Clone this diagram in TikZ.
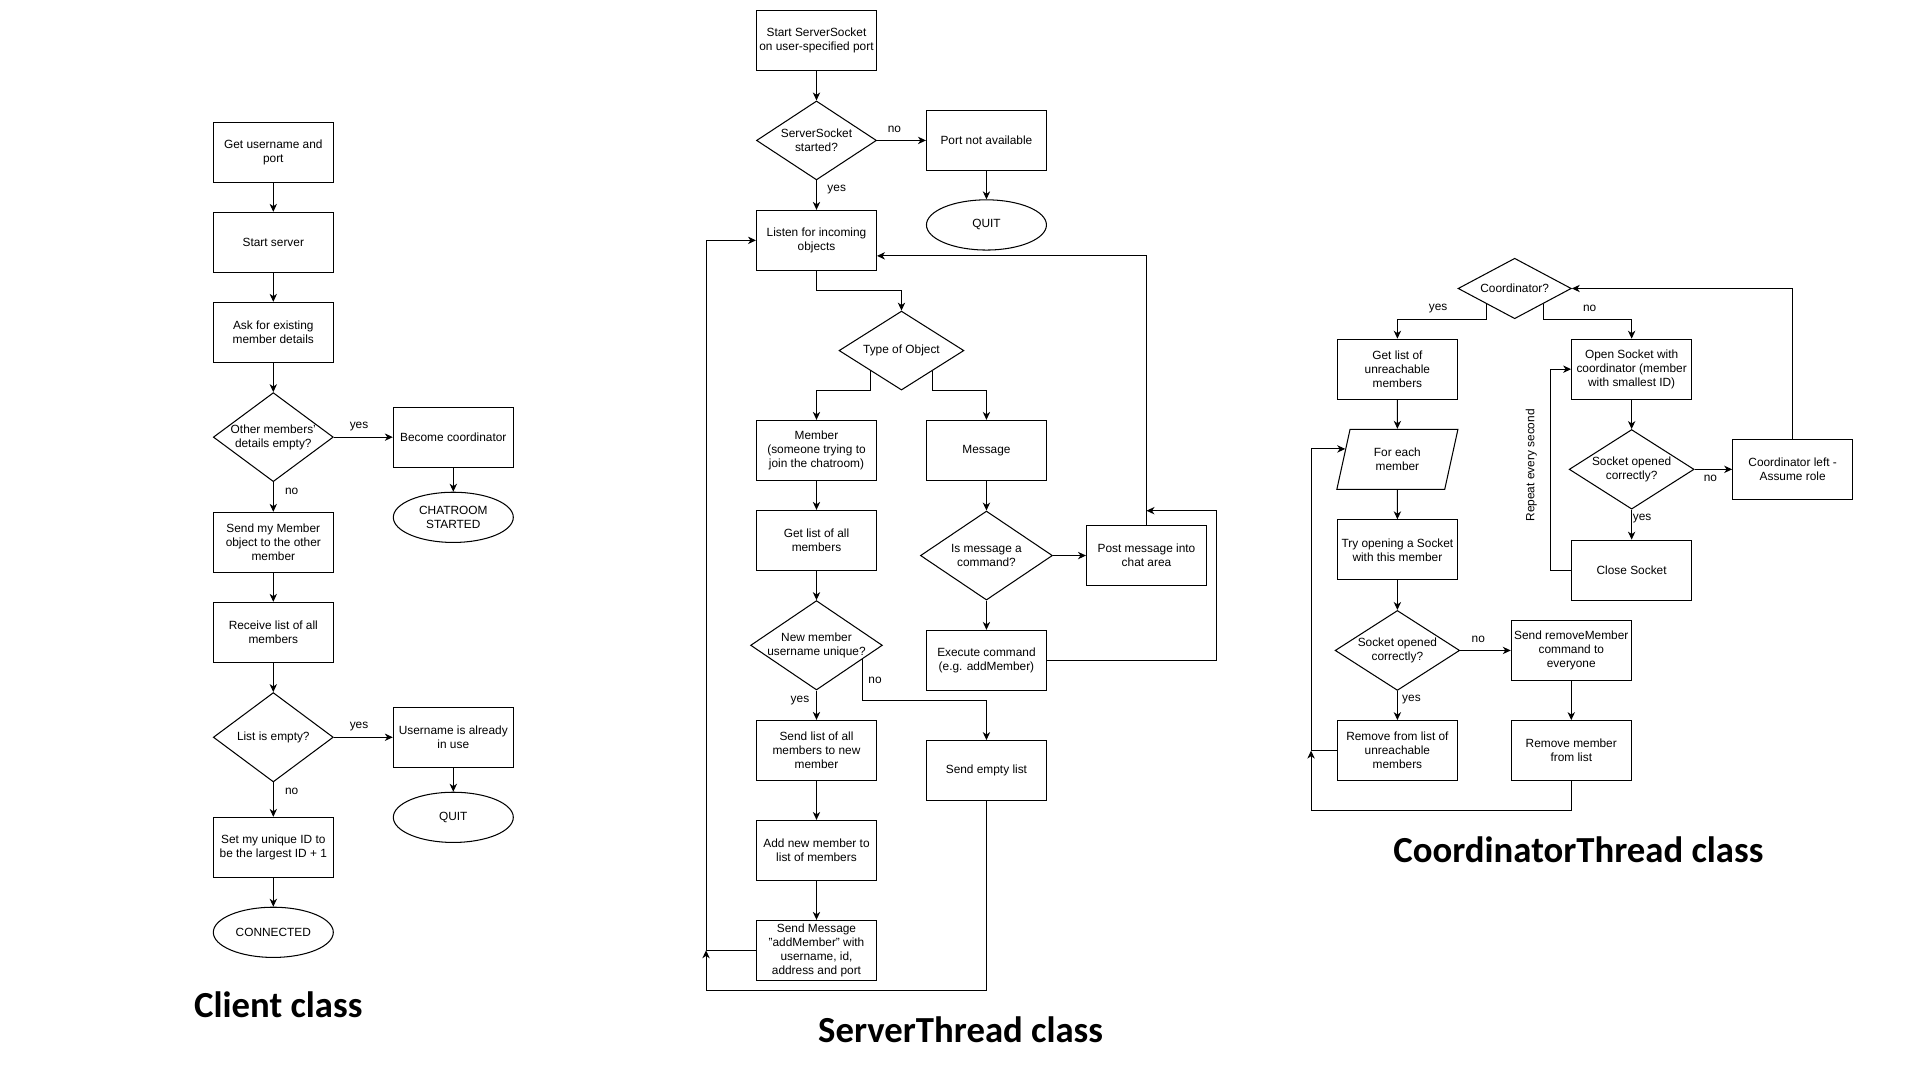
\documentclass[tikz,border=0pt]{standalone}
\usepackage{fontspec}
\setmainfont{Liberation Sans}
\newfontfamily\titlefont{Carlito}
\usetikzlibrary{shapes.geometric,arrows.meta,calc}
\tikzset{
  every node/.style={font=\fontsize{9.7}{11.5}\selectfont, inner sep=0pt},
  txt/.style={align=center},
  box/.style={draw, rectangle, minimum width=98pt, minimum height=49pt, align=center, line width=0.85pt},
  dia/.style={draw, diamond, line width=0.85pt},
  ell/.style={draw, ellipse, minimum width=98pt, minimum height=41pt, align=center, line width=0.85pt},
  para/.style={draw, trapezium, trapezium left angle=74, trapezium right angle=106, trapezium stretches=true, minimum width=99pt, minimum height=49pt, align=center, line width=0.85pt},
  arr/.style={-{Stealth[length=6.5pt,width=6pt,inset=2pt]}, line width=0.8pt},
  ttl/.style={font=\titlefont\bfseries\fontsize{30}{36}\selectfont, anchor=base},
}
\begin{document}
\begin{tikzpicture}[x=1pt,y=-1pt]
\fill[white] (0,0) rectangle (1568,882);
\useasboundingbox (0,0) rectangle (1568,882);

% ---------------- Client class ----------------
\node[box] (b1) at (223.2,124.4) {Get username and\\port};
\node[box] (b2) at (223.2,197.9) {Start server};
\node[box] (b3) at (223.2,271.4) {Ask for existing\\member details};
\node[dia, minimum width=98pt, minimum height=72.7pt] (d1) at (223.2,357) {};
\node[txt] (d1t) at (d1) {Other members'\\details empty?};
\node[box] (b4) at (370.2,357) {Become coordinator};
\node[ell] (e1) at (370.2,422.5) {CHATROOM\\STARTED};
\node[box] (b5) at (223.2,442.9) {Send my Member\\object to the other\\member};
\node[box] (b6) at (223.2,516.4) {Receive list of all\\members};
\node[dia, minimum width=98pt, minimum height=73pt] (d2) at (223.2,602.1) {};
\node[txt] (d2t) at (d2) {List is empty?};
\node[box] (b7) at (370.2,602.1) {Username is already\\in use};
\node[ell] (e2) at (370.2,667.5) {QUIT};
\node[box] (b8) at (223.2,692) {Set my unique ID to\\be the largest ID + 1};
\node[ell] (e3) at (223.2,761.4) {CONNECTED};

\node (ly1) at (293.2,348.4) {yes};
\node (ln1) at (238.2,401.5) {no};
\node (ly2) at (293.2,593.5) {yes};
\node (ln2) at (238.2,646.5) {no};

\draw[arr] (b1.south) -- (b2.north);
\draw[arr] (b2.south) -- (b3.north);
\draw[arr] (b3.south) -- (d1.north);
\draw[arr] (d1.east) -- (b4.west);
\draw[arr] (b4.south) -- (e1.north);
\draw[arr] (d1.south) -- (b5.north);
\draw[arr] (b5.south) -- (b6.north);
\draw[arr] (b6.south) -- (d2.north);
\draw[arr] (d2.east) -- (b7.west);
\draw[arr] (b7.south) -- (e2.north);
\draw[arr] (d2.south) -- (b8.north);
\draw[arr] (b8.south) -- (e3.north);

\node[ttl] (tc) at (227.3,831) {Client class};

% ---------------- ServerThread class ----------------
\node[box] (s1) at (666.8,33) {Start ServerSocket\\on user-specified port};
\node[dia, minimum width=98pt, minimum height=64.5pt] (sd1) at (666.8,114.7) {};
\node[txt] (sd1t) at (sd1) {ServerSocket\\started?};
\node[box] (s2) at (805.6,114.7) {Port not available};
\node[ell] (sq) at (805.6,183.7) {QUIT};
\node[box] (s3) at (666.8,196.3) {Listen for incoming\\objects};
\node[dia, minimum width=102pt, minimum height=64.5pt] (sd2) at (736.2,286.3) {};
\node[txt] (sd2t) at (sd2) {Type of Object};
\node[box] (s4) at (666.8,367.8) {Member\\(someone trying to\\join the chatroom)};
\node[box] (s5) at (805.6,367.8) {Message};
\node[box] (s6) at (666.8,441.3) {Get list of all\\members};
\node[dia, minimum width=107.8pt, minimum height=72.7pt] (sd3) at (805.6,453.7) {};
\node[txt] (sd3t) at (sd3) {Is message a\\command?};
\node[box] (s7) at (936.3,453.7) {Post message into\\chat area};
\node[box] (s8) at (805.6,539.3) {Execute command\\(e.g. addMember)};
\node[dia, minimum width=107.6pt, minimum height=73pt] (sd4) at (666.8,527) {};
\node[txt] (sd4t) at (sd4) {New member\\username unique?};
\node[box] (s9) at (666.8,612.8) {Send list of all\\members to new\\member};
\node[box] (s10) at (805.6,629.3) {Send empty list};
\node[box] (s11) at (666.8,694.5) {Add new member to\\list of members};
\node[box] (s12) at (666.8,776.1) {Send Message\\"addMember" with\\username, id,\\address and port};

\node (sln1) at (730.4,106) {no};
\node (sly1) at (683.3,155) {yes};
\node (sln2) at (714.6,555.3) {no};
\node (sly2) at (653.3,572.5) {yes};

\draw[arr] (s1.south) -- (sd1.north);
\draw[arr] (sd1.east) -- (s2.west);
\draw[arr] (s2.south) -- (sq.north);
\draw[arr] (sd1.south) -- (s3.north);
\draw[arr] (s3.south) -- ++(0,16.4) -| (sd2.north);
\draw[arr] (sd2.south west) -- (sd2.south west |- sd2.south) -| (s4.north);
\draw[arr] (sd2.south east) -- (sd2.south east |- sd2.south) -| (s5.north);
\draw[arr] (s4.south) -- (s6.north);
\draw[arr] (s6.south) -- (sd4.north);
\draw[arr] (sd4.south) -- (s9.north);
\coordinate (sd4n) at ($(sd4.east)!0.305!(sd4.south)$);
\coordinate (y572) at (0,572);
\draw[arr] (sd4n) -- (sd4n |- y572) -| (s10.north);
\draw[arr] (s9.south) -- (s11.north);
\draw[arr] (s11.south) -- (s12.north);
\draw[arr] (s5.south) -- (sd3.north);
\draw[arr] (sd3.east) -- (s7.west);
\draw[arr] (sd3.south) -- (s8.north);
\coordinate (s3r) at ($(s3.north east)!0.754!(s3.south east)$);
\draw[arr] (s7.north) |- (s3r);
\coordinate (s7m) at ($(s7.north)+(0,-11.7)$);
\coordinate (s8x) at (993.6,0);
\draw[arr] (s8.east) -- (s8.east -| s8x) |- (s7m);
\coordinate (slx) at (576.6,808.8);
\draw[arr] (s12.west) -- (s12.west -| slx) |- (s3.west);
\draw[arr] (s10.south) |- (slx) -- (s12.west -| slx);

\node[ttl] (ts) at (784.5,851.5) {ServerThread class};

% ---------------- CoordinatorThread class ----------------
\node[dia, minimum width=92.5pt, minimum height=49.4pt] (cd1) at (1237,235.6) {};
\node[txt] (cd1t) at (cd1) {Coordinator?};
\node[box] (c1) at (1141.2,301.5) {Get list of\\unreachable\\members};
\node[para] (c2) at (1141.2,375.1) {For each\\member};
\node[box] (c3) at (1141.2,449) {Try opening a Socket\\with this member};
\node[dia, minimum width=101.7pt, minimum height=65.3pt] (cd2) at (1141.2,531.2) {};
\node[txt] (cd2t) at (cd2) {Socket opened\\correctly?};
\node[box] (c5) at (1283.2,531.2) {Send removeMember\\command to\\everyone};
\node[box] (c6) at (1141.2,613) {Remove from list of\\unreachable\\members};
\node[box] (c7) at (1283.2,613) {Remove member\\from list};
\node[box] (c4) at (1332.5,301.5) {Open Socket with\\coordinator (member\\with smallest ID)};
\node[dia, minimum width=102pt, minimum height=65pt] (cd3) at (1332.5,383.3) {};
\node[txt] (cd3t) at (cd3) {Socket opened\\correctly?};
\node[box] (c8) at (1464,383.3) {Coordinator left -\\Assume role};
\node[box] (c9) at (1332.5,465.6) {Close Socket};
\node[rotate=90] (rep) at (1250.5,380) {Repeat every second};

\node (cly1) at (1174.4,251.9) {yes};
\node (cln1) at (1298.2,251.9) {no};
\node (cln2) at (1207.3,522.3) {no};
\node (cly2) at (1152.7,571.5) {yes};
\node (cln3) at (1396.8,390.9) {no};
\node (cly3) at (1341,423.7) {yes};

\draw[arr] (cd1.south west) -- (cd1.south west |- cd1.south) -| (c1.north);
\draw[arr] (cd1.south east) -- (cd1.south east |- cd1.south) -| (c4.north);
\draw[arr] (c1.south) -- (c2.north);
\draw[arr] (c2.south) -- (c3.north);
\draw[arr] (c3.south) -- (cd2.north);
\draw[arr] (cd2.east) -- (c5.west);
\draw[arr] (cd2.south) -- (c6.north);
\draw[arr] (c5.south) -- (c7.north);
\coordinate (clx) at (1070.7,662);
\coordinate (c2l) at ($(c2.top left corner)!0.33!(c2.bottom left corner)$);
\draw[arr] (c6.west) -- (c6.west -| clx) |- (c2l);
\draw[arr] (c7.south) |- (clx) -- (c6.west -| clx);
\draw[arr] (c4.south) -- (cd3.north);
\draw[arr] (cd3.east) -- (c8.west);
\draw[arr] (cd3.south) -- (c9.north);
\draw[arr] (c9.west) -- ++(-16.6,0) |- (c4.west);
\draw[arr] (c8.north) |- (cd1.east);

\node[ttl] (tco) at (1289,704.5) {CoordinatorThread class};
\end{tikzpicture}
\end{document}
